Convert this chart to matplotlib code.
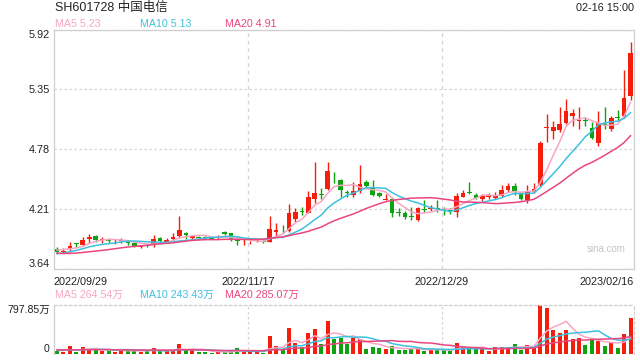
import numpy as np
import matplotlib
matplotlib.use("Agg")
import matplotlib.pyplot as plt

plt.rcParams['font.family'] = ['Liberation Sans', 'Noto Sans CJK SC', 'DejaVu Sans']

title = "SH601728 中国电信"
timestamp = "02-16 15:00"
date_labels = ["2022/09/29", "2022/11/17", "2022/12/29", "2023/02/16"]
date_label_idx = [0, 30, 60, 89]
price_ticks = [3.64, 4.21, 4.78, 5.35, 5.92]
price_tick_labels = ["3.64", "4.21", "4.78", "5.35", "5.92"]
vol_max = 797.85
vol_tick_labels = ["0", "797.85万"]
ma_periods = [5, 10, 20]
ma_price_last = ["5.23", "5.13", "4.91"]
ma_vol_last = ["264.54万", "243.43万", "285.07万"]

opens = [3.827, 3.802, 3.827, 3.887, 3.872, 3.922, 3.954, 3.919, 3.922, 3.913,
         3.907, 3.894, 3.891, 3.849, 3.868, 3.865, 3.938, 3.897, 3.926, 3.954,
         3.980, 3.932, 3.944, 3.941, 3.941, 3.938, 3.992, 3.979, 3.922, 3.884,
         3.894, 3.910, 3.903, 3.900, 3.995, 4.014, 4.002, 4.113, 4.192, 4.176,
         4.310, 4.351, 4.402, 4.510, 4.487, 4.370, 4.345, 4.383, 4.469, 4.424,
         4.367, 4.300, 4.310, 4.180, 4.170, 4.145, 4.107, 4.212, 4.215, 4.221,
         4.212, 4.202, 4.186, 4.329, 4.370, 4.345, 4.304, 4.323, 4.320, 4.339,
         4.396, 4.428, 4.351, 4.301, 4.377, 4.440, 4.983, 4.958, 4.967, 5.031,
         5.101, 5.047, 5.056, 4.983, 4.840, 5.018, 4.974, 5.091, 5.094, 5.285]
closes = [3.805, 3.814, 3.859, 3.881, 3.916, 3.941, 3.916, 3.926, 3.903, 3.919,
          3.913, 3.887, 3.859, 3.856, 3.862, 3.922, 3.903, 3.916, 3.941, 4.011,
          3.960, 3.954, 3.938, 3.935, 3.929, 3.944, 3.973, 3.922, 3.903, 3.890,
          3.900, 3.922, 3.897, 4.021, 4.011, 4.008, 4.176, 4.186, 4.186, 4.329,
          4.367, 4.344, 4.576, 4.503, 4.392, 4.364, 4.383, 4.446, 4.431, 4.345,
          4.335, 4.307, 4.170, 4.173, 4.139, 4.132, 4.218, 4.205, 4.221, 4.215,
          4.205, 4.189, 4.335, 4.367, 4.364, 4.313, 4.335, 4.342, 4.339, 4.393,
          4.434, 4.377, 4.307, 4.386, 4.402, 4.840, 4.989, 4.993, 5.021, 5.148,
          5.126, 5.053, 5.047, 4.885, 5.031, 5.012, 5.078, 5.082, 5.269, 5.697]
highs = [3.853, 3.837, 3.900, 3.891, 3.941, 3.973, 3.964, 3.948, 3.932, 3.926,
         3.932, 3.916, 3.897, 3.872, 3.875, 3.964, 3.948, 3.932, 3.980, 4.145,
         3.992, 3.964, 3.954, 3.954, 3.948, 3.960, 3.998, 3.986, 3.932, 3.922,
         3.910, 3.929, 3.916, 4.144, 4.075, 4.059, 4.256, 4.217, 4.227, 4.379,
         4.656, 4.414, 4.656, 4.563, 4.494, 4.393, 4.472, 4.630, 4.488, 4.488,
         4.373, 4.354, 4.329, 4.218, 4.196, 4.234, 4.234, 4.297, 4.250, 4.297,
         4.234, 4.218, 4.361, 4.393, 4.472, 4.361, 4.354, 4.361, 4.377, 4.440,
         4.459, 4.459, 4.364, 4.440, 4.459, 4.863, 5.116, 5.053, 5.180, 5.259,
         5.164, 5.180, 5.085, 5.037, 5.148, 5.180, 5.094, 5.158, 5.539, 5.805]
lows = [3.789, 3.795, 3.805, 3.853, 3.859, 3.891, 3.900, 3.891, 3.884, 3.878,
        3.884, 3.865, 3.849, 3.837, 3.853, 3.853, 3.891, 3.884, 3.916, 3.932,
        3.929, 3.922, 3.929, 3.922, 3.922, 3.922, 3.967, 3.910, 3.868, 3.871,
        3.878, 3.900, 3.884, 3.894, 3.948, 3.979, 3.995, 4.090, 4.154, 4.170,
        4.265, 4.303, 4.392, 4.456, 4.329, 4.329, 4.329, 4.367, 4.408, 4.335,
        4.329, 4.297, 4.132, 4.145, 4.113, 4.107, 4.100, 4.186, 4.196, 4.186,
        4.154, 4.164, 4.139, 4.323, 4.354, 4.304, 4.291, 4.304, 4.307, 4.323,
        4.370, 4.345, 4.301, 4.269, 4.364, 4.434, 4.847, 4.878, 4.942, 5.021,
        5.005, 4.974, 5.005, 4.878, 4.815, 4.974, 4.958, 5.053, 5.075, 5.253]
volumes = [49, 38, 130, 38, 114, 81, 92, 54, 54, 38,
           65, 54, 54, 38, 49, 98, 43, 43, 60, 163,
           65, 65, 38, 38, 22, 38, 27, 43, 98, 38,
           33, 43, 22, 285, 135, 60, 428, 185, 119, 350,
           410, 163, 540, 250, 265, 163, 266, 239, 81, 114,
           98, 81, 130, 65, 65, 87, 87, 54, 65, 65,
           65, 49, 179, 119, 87, 87, 87, 49, 109, 109,
           112, 168, 68, 145, 112, 797.85, 750, 385, 345, 384,
           240, 255, 140, 260, 219, 135, 180, 105, 320, 580]
prior_closes = [3.86, 3.84, 3.82, 3.80, 3.81, 3.79, 3.78, 3.76, 3.75, 3.74,
                3.73, 3.74, 3.76, 3.76, 3.76, 3.79, 3.82, 3.84, 3.845]
prior_volumes = [85, 70, 95, 60, 75, 80, 55, 65, 90, 70,
                 60, 75, 50, 65, 80, 70, 55, 60, 75]

RED = "#f51d0c"
GREEN = "#0ea30e"
MA_COLORS = ["#f7a6c3", "#3dc1df", "#e9467f"]
GRID = "#d4d4d4"
BORDER = "#cfcfcf"


def moving_avg(prior, vals, n):
    full = np.array(list(prior) + list(vals), dtype=float)
    out = np.convolve(full, np.ones(n) / n, mode="valid")
    return out[-len(vals):]


W, H = 640, 360
fig = plt.figure(figsize=(6.4, 3.6), dpi=100)


def fx(px):
    return px / W


def fy(py):
    return 1 - py / H


ax = fig.add_axes([fx(54), fy(269), fx(634) - fx(54), fy(29.5) - fy(269)])
axv = fig.add_axes([fx(54), fy(354), fx(634) - fx(54), fy(305) - fy(354)])

n = len(closes)
x = np.arange(n)
o = np.array(opens)
c = np.array(closes)
hi = np.array(highs)
lo = np.array(lows)
up = c >= o
colors = np.where(up, RED, GREEN)

# price panel
ax.vlines(x, lo, hi, colors=colors, linewidth=1.0, zorder=2)
body_h = np.maximum(np.abs(c - o), 0.007)
ax.bar(x, body_h, bottom=np.minimum(o, c), width=0.72, color=colors,
       linewidth=0, zorder=3)
for p, col in zip(ma_periods, MA_COLORS):
    ax.plot(x, moving_avg(prior_closes, closes, p), color=col, lw=1.1, zorder=4)

ax.set_xlim(-0.47, n - 1 + 0.54)
ax.set_ylim(price_ticks[0], price_ticks[-1])
ax.set_yticks(price_ticks)
ax.set_yticklabels(price_tick_labels, fontsize=7.8, color="#222222")
ylabs = ax.get_yticklabels()
ylabs[0].set_va("bottom")
ylabs[-1].set_va("top")
ax.tick_params(axis="y", length=0, pad=3)
ax.grid(axis="y", linestyle=(0, (2, 2)), color=GRID, linewidth=0.9)
vline_pos = [i - 0.3 for i in date_label_idx[1:-1]]
for vp in vline_pos:
    ax.axvline(vp, color=GRID, linestyle=(0, (3, 3)), linewidth=0.9, zorder=1)
tick_pos = [date_label_idx[0] - 0.47] + vline_pos + [n - 1 + 0.54]
ax.set_xticks(tick_pos)
ax.set_xticklabels(date_labels, fontsize=7.8, color="#222222")
xlabs = ax.get_xticklabels()
xlabs[0].set_ha("left")
xlabs[-1].set_ha("right")
ax.tick_params(axis="x", length=0, pad=6)
for s in ax.spines.values():
    s.set_color(BORDER)
    s.set_linewidth(0.9)
ax.text(0.985, 0.085, "sina.com", transform=ax.transAxes, ha="right",
        va="center", fontsize=7, color="#c4c4c4")

# volume panel
v = np.array(volumes, dtype=float)
axv.bar(x, v, width=0.62, color=colors, linewidth=0, zorder=2)
for p, col in zip(ma_periods, MA_COLORS):
    axv.plot(x, moving_avg(prior_volumes, volumes, p), color=col, lw=1.1, zorder=3)
axv.set_xlim(ax.get_xlim())
axv.set_ylim(0, vol_max)
axv.set_yticks([0, vol_max])
axv.set_yticklabels(vol_tick_labels, fontsize=7.6, color="#222222")
vlabs = axv.get_yticklabels()
vlabs[0].set_va("bottom")
vlabs[-1].set_va("top")
axv.tick_params(axis="y", length=0, pad=3)
axv.set_xticks([])
for vp in vline_pos:
    axv.axvline(vp, color=GRID, linestyle=(0, (2, 2)), linewidth=0.9, zorder=1)
for k, s in axv.spines.items():
    s.set_color(BORDER)
    s.set_linewidth(0.9)
axv.spines["top"].set_linestyle((0, (2, 2)))
axv.spines["right"].set_linestyle((0, (2, 2)))
axv.spines["bottom"].set_visible(False)

# header texts
fig.text(fx(55), fy(8), title, fontsize=9, color="#222222", va="center", ha="left")
fig.text(fx(634), fy(8), timestamp, fontsize=7.8, color="#222222", va="center", ha="right")
leg_x = [55, 140, 225]
for lx, p, col, val in zip(leg_x, ma_periods, MA_COLORS, ma_price_last):
    fig.text(fx(lx), fy(24), f"MA{p} {val}", fontsize=7.7, color=col, va="center", ha="left")
for lx, p, col, val in zip(leg_x, ma_periods, MA_COLORS, ma_vol_last):
    fig.text(fx(lx), fy(295), f"MA{p} {val}", fontsize=7.7, color=col, va="center", ha="left")

fig.savefig("out.png", dpi=100)
